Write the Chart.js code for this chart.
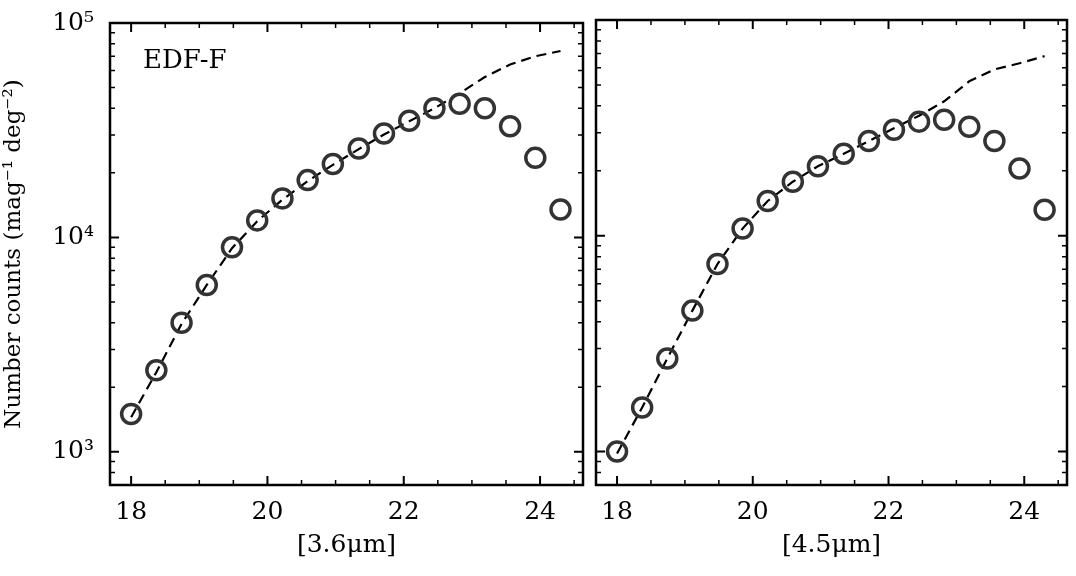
<!DOCTYPE html>
<html><head><meta charset="utf-8">
<script src="https://cdn.jsdelivr.net/npm/chart.js@4"></script>
<style>body{margin:0;background:#fff;width:1076px;height:576px;position:relative;overflow:hidden}
#c1{position:absolute;left:0;top:0}#c2{position:absolute;left:583px;top:0}</style></head>
<body><canvas id="c1" width="596" height="576"></canvas><canvas id="c2" width="497" height="576"></canvas>
<script>
const mags = [18.0,18.37,18.74,19.11,19.48,19.85,20.22,20.59,20.96,21.34,21.71,22.08,22.45,22.82,23.19,23.56,23.93,24.3];
const counts36 = [1500,2400,4000,6000,9000,12000,15200,18500,22000,26000,30500,35000,40000,42000,40000,33000,23500,13500];
const model36 = [1450,2350,3950,6000,8900,11900,15000,18300,21800,25800,30200,34800,40000,47000,56000,64000,70000,74000];
const counts45 = [1000,1600,2700,4500,7400,10800,14500,17800,21000,24000,27500,31000,33800,34500,32000,27500,20500,13200];
const model45 = [980,1600,2700,4500,7400,10800,14500,17800,21000,24000,27500,31500,36000,42000,52000,59000,63000,68000];
const xLabels = ['[3.6\u03bcm]','[4.5\u03bcm]'];
const F = '"DejaVu Serif", serif';
const sup = {3:'\u00b3',4:'\u2074',5:'\u2075'};
const tickPlugin = {id:'tk', afterDraw(ch){
  const c=ch.ctx,a=ch.chartArea,xs=ch.scales.x,ys=ch.scales.y;
  c.save();c.strokeStyle='#000';
  for(let v=18;v<=24.6;v+=0.5){const p=xs.getPixelForValue(v);const L=(Math.abs(v%2)<1e-6)?9:5;c.lineWidth=L>5?2:1.5;
    c.beginPath();c.moveTo(p,a.bottom);c.lineTo(p,a.bottom-L);c.moveTo(p,a.top);c.lineTo(p,a.top+L);c.stroke();}
  for(let e=2;e<=5;e++)for(let m=1;m<10;m++){const v=m*Math.pow(10,e);if(v<ys.min||v>ys.max)continue;
    const p=ys.getPixelForValue(v);const L=m==1?9:5;c.lineWidth=m==1?2:1.5;
    c.beginPath();c.moveTo(a.left,p);c.lineTo(a.left+L,p);c.moveTo(a.right,p);c.lineTo(a.right-L,p);c.stroke();}
  c.lineWidth=2.5;c.strokeRect(a.left,a.top,a.right-a.left,a.bottom-a.top);
  if(ch.canvas.id==='c1'){c.fillStyle='#000';c.font='26px '+F;c.textBaseline='middle';c.fillText('EDF-F',a.left+33,61);}
  c.restore();}};
function make(id,counts,model,lab,left){
  new Chart(document.getElementById(id),{type:'line',
   data:{datasets:[
    {data:model.map((y,i)=>({x:mags[i],y})),borderColor:'#000',borderWidth:2.2,borderDash:[10,6],pointRadius:0,fill:false,order:2},
    {data:counts.map((y,i)=>({x:mags[i],y})),showLine:false,pointRadius:9.5,pointBorderWidth:3.5,pointBorderColor:'#333',pointBackgroundColor:'rgba(255,255,255,0)',order:1}]},
   options:{responsive:false,animation:false,layout:{padding:{top:20,right:left?0:1,left:0,bottom:12}},
    plugins:{legend:{display:false},tooltip:{enabled:false}},
    scales:{
     x:{type:'linear',min:17.69,max:24.63,grid:{display:false},border:{display:false},
        afterBuildTicks(s){s.ticks=[18,20,22,24].map(v=>({value:v}));},
        ticks:{color:'#000',font:{family:F,size:25},padding:4},
        title:{display:true,text:lab,color:'#000',font:{family:F,size:25},padding:{top:0}},
        afterFit(s){s.height=79;}},
     y:{type:'logarithmic',min:700,max:100000,grid:{display:false},border:{display:false},
        afterBuildTicks(s){s.ticks=[1000,10000,100000].map(v=>({value:v}));},
        ticks:{display:left,color:'#000',font:{family:F,size:25},padding:8,callback:v=>'10'+sup[Math.round(Math.log10(v))]},
        title:{display:left,text:'Number counts (mag\u207b\u00b9 deg\u207b\u00b2)',color:'#000',font:{family:F,size:23},padding:0},
        afterFit(s){s.width=left?110:12;}}}},
   plugins:[tickPlugin]});
}
make('c1',counts36,model36,xLabels[0],true);
make('c2',counts45,model45,xLabels[1],false);
</script></body></html>
